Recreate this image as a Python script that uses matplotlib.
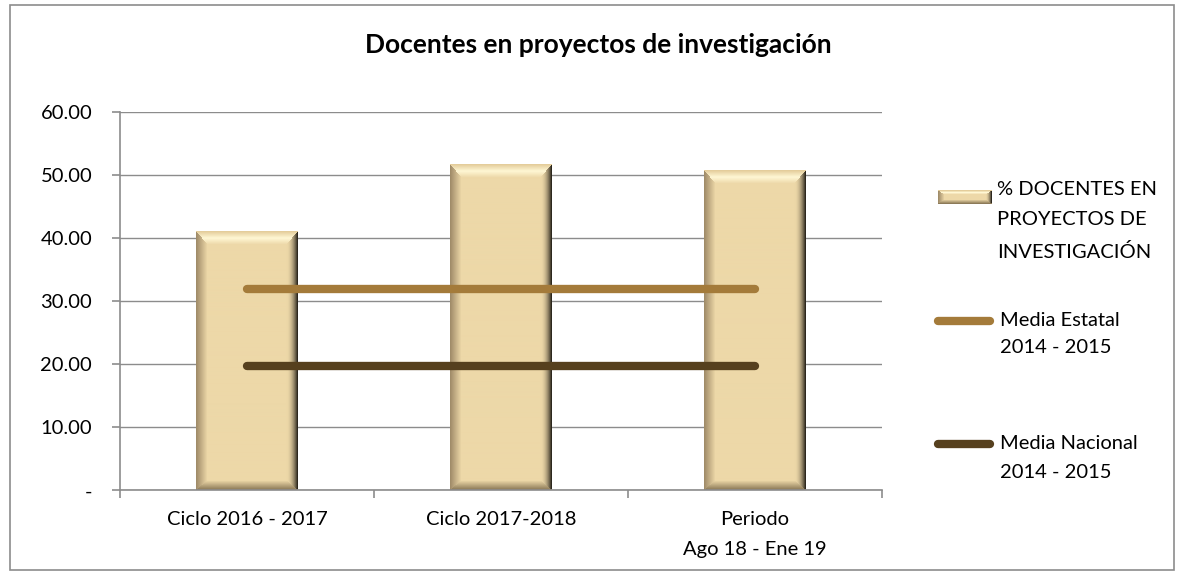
import numpy as np
import matplotlib
matplotlib.use("Agg")
import matplotlib.pyplot as plt
from matplotlib.lines import Line2D
from matplotlib.patches import Rectangle

plt.rcParams['font.family'] = ['Lato', 'DejaVu Sans']

# data
categories = ['Ciclo 2016 - 2017', 'Ciclo 2017-2018', 'Periodo\nAgo 18 - Ene 19']
docentes_pct = [41.0, 51.6, 50.7]
media_estatal = [32.0, 32.0, 32.0]
media_nacional = [19.7, 19.7, 19.7]
yticks = [0, 10, 20, 30, 40, 50, 60]
ytick_labels = ['-', '10.00', '20.00', '30.00', '40.00', '50.00', '60.00']

FACE = np.array([237, 216, 168]) / 255.0
FS = 14.5


def bevel_image(w, h, bt=13, bb=9, bl=11, br=11):
    # fake excel "bevel" look: lighter top, darker sides and bottom
    j = np.arange(w)[None, :].repeat(h, 0).astype(float)
    i = np.arange(h)[:, None].repeat(w, 1).astype(float)
    d = np.stack([i / bt, (h - 1 - i) / bb, j / bl, (w - 1 - j) / br])
    idx = d.argmin(0)
    t = np.clip(d.min(0), 0, 1)
    img = np.ones((h, w, 3)) * FACE
    edges = {
        0: np.array([228, 205, 155]) / 255.0,
        1: np.array([140, 122, 88]) / 255.0,
        2: np.array([160, 140, 105]) / 255.0,
        3: np.array([45, 40, 30]) / 255.0,
    }
    for k, ec in edges.items():
        m = (idx == k) & (t < 1)
        tt = t[m][:, None]
        if k == 0:
            hi = np.array([255, 247, 212]) / 255.0
            col = np.where(tt < 0.5, ec * (1 - tt * 2) + hi * tt * 2,
                           hi * (2 - tt * 2) + FACE * (tt * 2 - 1))
        elif k == 3:
            col = ec * (1 - tt) ** 2 + FACE * (1 - (1 - tt) ** 2)
        else:
            col = ec * (1 - tt) + FACE * tt
        img[m] = col
    return img


W, H = 1182, 575
fig = plt.figure(figsize=(W / 100, H / 100), dpi=100)
ax = fig.add_axes([120 / W, (H - 490.3) / H, 762 / W, 378 / H])

x = np.arange(len(categories))
bar_w = 0.4
bars = ax.bar(x, docentes_pct, width=bar_w, color='none', zorder=2)
px_per_x = 762 / 3
px_per_y = 378 / 60
for b in bars:
    bw = int(round(b.get_width() * px_per_x))
    bh = int(round(b.get_height() * px_per_y))
    ax.imshow(bevel_image(bw, bh), extent=[b.get_x(), b.get_x() + b.get_width(), 0, b.get_height()],
              aspect='auto', interpolation='bilinear', zorder=2)

ax.plot(x, media_estatal, color='#A47B3A', lw=6, solid_capstyle='round', zorder=3)
ax.plot(x, media_nacional, color='#56401E', lw=6, solid_capstyle='round', zorder=3)

ax.set_xlim(-0.5, 2.5)
ax.set_ylim(0, 60)
ax.set_yticks(yticks)
ax.set_yticklabels(ytick_labels)
ax.yaxis.grid(True, color='#8C8C8C', lw=1.0)
ax.set_axisbelow(True)

ax.set_xticks([-0.5, 0.5, 1.5, 2.5])
ax.set_xticklabels([])
ax.set_xticks(x, minor=True)
ax.set_xticklabels(categories, minor=True, fontsize=FS, linespacing=1.95)
ax.tick_params(axis='x', which='minor', length=0, pad=15)
ax.tick_params(axis='x', which='major', length=6, color='#8C8C8C', width=1.2)
ax.tick_params(axis='y', length=6, color='#8C8C8C', width=1.2, pad=14, labelsize=FS)

for s in ['top', 'right']:
    ax.spines[s].set_visible(False)
for s in ['left', 'bottom']:
    ax.spines[s].set_color('#8C8C8C')
    ax.spines[s].set_linewidth(1.2)

fig.text(598 / W, 1 - 45 / H, 'Docentes en proyectos de investigación', ha='center', va='center',
         fontsize=19, fontweight='bold')

# legend drawn by hand to match the stacked labels
hax = fig.add_axes([938 / W, 1 - 204 / H, 54 / W, 14 / H])
hax.imshow(bevel_image(54, 14, bt=4, bb=4, bl=6, br=6), aspect='auto', interpolation='bilinear')
hax.axis('off')
fig.text(997 / W, 1 - 181 / H, '% DOCENTES EN\nPROYECTOS DE\nINVESTIGACIÓN', ha='left', va='top',
         fontsize=FS, linespacing=1.95)
fig.add_artist(Line2D([938 / W, 990 / W], [1 - 321 / H, 1 - 321 / H], color='#A47B3A', lw=6,
                      solid_capstyle='round'))
fig.text(1000 / W, 1 - 312 / H, 'Media Estatal\n2014 - 2015', ha='left', va='top',
         fontsize=FS, linespacing=1.7)
fig.add_artist(Line2D([938 / W, 990 / W], [1 - 444 / H, 1 - 444 / H], color='#56401E', lw=6,
                      solid_capstyle='round'))
fig.text(1000 / W, 1 - 435 / H, 'Media Nacional\n2014 - 2015', ha='left', va='top',
         fontsize=FS, linespacing=1.85)

fig.add_artist(Rectangle((10 / W, 5 / H), 1164 / W, 565 / H, fill=False, ec='#8C8C8C', lw=1.2))

fig.savefig('out.png', dpi=100)
